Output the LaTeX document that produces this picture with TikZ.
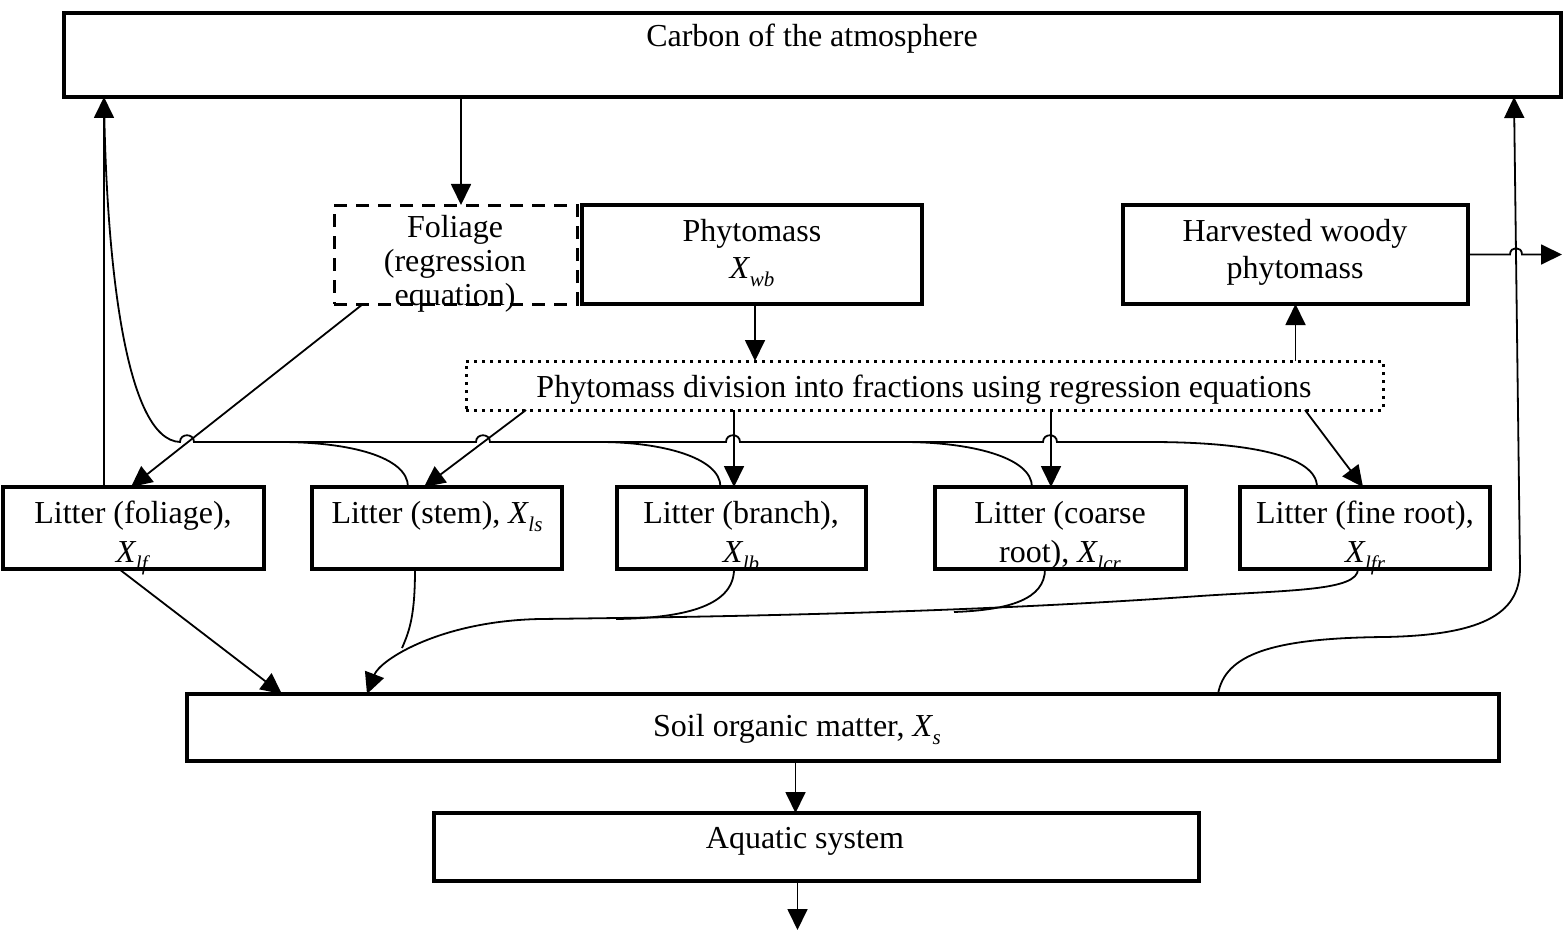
\documentclass[tikz,border=0pt]{standalone}
\usepackage{fontspec}
\setmainfont{Liberation Serif}
\usetikzlibrary{arrows.meta}
\newcommand\Xs[1]{\textit{X}\kern-0.5pt\raisebox{-8pt}{\fontsize{21}{21}\selectfont\textit{#1}}}
\begin{document}
\begin{tikzpicture}[x=1pt,y=-1pt,
  box/.style={draw, line width=3.5pt, inner sep=0pt, outer sep=0pt, anchor=north west},
  dashbox/.style={box, line width=3pt, dash pattern=on 13pt off 9pt},
  dotbox/.style={box, line width=3pt, dash pattern=on 3pt off 5pt},
  lbl/.style={anchor=base, inner sep=0pt, align=center, font=\fontsize{32}{35}\selectfont},
  arr/.style={line width=1.8pt, -{Triangle[length=21pt,width=20pt]}},
  ln/.style={line width=1.8pt},
]
\useasboundingbox (0,0) rectangle (1564,931);

% boxes
\node[box, minimum width=1497pt, minimum height=84pt] (atm) at (64,13) {};
\node[dashbox, minimum width=243pt, minimum height=99pt] (fol) at (334,205) {};
\node[box, minimum width=340pt, minimum height=99pt] (phy) at (582,205) {};
\node[box, minimum width=345pt, minimum height=99pt] (har) at (1123,205) {};
\node[dotbox, minimum width=917pt, minimum height=49pt] (div) at (466,361) {};
\node[box, minimum width=261pt, minimum height=82pt] (lf) at (3,487) {};
\node[box, minimum width=250pt, minimum height=82pt] (ls) at (312,487) {};
\node[box, minimum width=249pt, minimum height=82pt] (lb) at (617,487) {};
\node[box, minimum width=251pt, minimum height=82pt] (lcr) at (935,487) {};
\node[box, minimum width=250pt, minimum height=82pt] (lfr) at (1240,487) {};
\node[box, minimum width=1312pt, minimum height=67pt] (soil) at (187,694) {};
\node[box, minimum width=765pt, minimum height=68pt] (aq) at (434,813) {};

% texts
\node[lbl] (atmT) at (812,47) {Carbon of the atmosphere};
\node[lbl, font=\fontsize{32}{34}\selectfont] (folT) at (455,305) {Foliage\\(regression\\equation)};
\node[lbl, font=\fontsize{32}{37}\selectfont] (phyT) at (752,278) {Phytomass\\\Xs{wb}};
\node[lbl, font=\fontsize{32}{37}\selectfont] (harT) at (1295,278) {Harvested woody\\phytomass};
\node[lbl] (divT) at (924,397) {Phytomass division into fractions using regression equations};
\node[lbl, font=\fontsize{32}{39}\selectfont] (lfT) at (133,562) {Litter (foliage),\\\Xs{lf}};
\node[lbl] (lsT) at (437,523) {Litter (stem), \Xs{ls}};
\node[lbl, font=\fontsize{32}{39}\selectfont] (lbT) at (741,562) {Litter (branch),\\\Xs{lb}};
\node[lbl, font=\fontsize{32}{39}\selectfont] (lcrT) at (1060,562) {Litter (coarse\\root), \Xs{lcr}};
\node[lbl, font=\fontsize{32}{39}\selectfont] (lfrT) at (1365,562) {Litter (fine root),\\\Xs{lfr}};
\node[lbl] (soilT) at (797,736) {Soil organic matter, \Xs{s}};
\node[lbl] (aqT) at (805,848) {Aquatic system};

\coordinate (h1) at ([xshift=42pt]har.east);
\coordinate (h2) at ([xshift=54pt]har.east);
\coordinate (out1) at ([xshift=94pt]har.east);

% straight arrows
\draw[arr] ([xshift=5.5pt]fol.north |- atm.south) -- ([xshift=5.5pt]fol.north);
\draw[arr] ([xshift=3pt]phy.south) -- ([xshift=3pt]phy.south |- div.north);
\draw[arr] (har.south |- div.north) -- (har.south);
\draw[arr] (har.east) -- (h1) .. controls +(0,-8.5) and +(0,-8.5) .. (h2) -- (out1);
\draw[arr] ([xshift=29pt]fol.south west) -- ([xshift=128pt]lf.north west);
\draw[arr] ([xshift=60pt]div.south west) -- ([xshift=112pt]ls.north west);
\draw[arr] ([xshift=117pt]lb.north west |- div.south) -- ([xshift=117pt]lb.north west);
\draw[arr] ([xshift=116pt]lcr.north west |- div.south) -- ([xshift=116pt]lcr.north west);
\draw[arr] ([xshift=839pt]div.south west) -- ([xshift=123pt]lfr.north west);
\draw[arr] ([xshift=101pt]lf.north west) -- ([xshift=101pt]lf.north west |- atm.south);
\draw[arr] ([xshift=116pt]lf.south west) -- ([xshift=95pt]soil.north west);
\draw[arr] ([xshift=-21pt]aq.north |- soil.south) -- ([xshift=-21pt]aq.north);
\draw[arr] ([xshift=-19pt]aq.south) -- ++(0,49);

% return line to the atmosphere
\draw[ln] ([xshift=-48pt]lfr.north) .. controls +(0,-31) and (1250,442) .. (1150,442)
  -- (1057,442) .. controls (1057,433) and (1043,433) .. (1043,442)
  -- (740,442) .. controls (740,433) and (726,433) .. (726,442)
  -- (490,442) .. controls (490,433) and (476,433) .. (476,442)
  -- (194,442) .. controls (194,433) and (180,433) .. (180,442)
  .. controls (125,440) and (106,260) .. ([xshift=101pt]lf.north west |- atm.south);
\draw[ln] ([xshift=-29pt]ls.north) .. controls +(0,-30) and (350,442) .. (280,442);
\draw[ln] ([xshift=-21pt]lb.north) .. controls +(0,-30) and (660,442) .. (600,442);
\draw[ln] ([xshift=-28.5pt]lcr.north) .. controls +(0,-30) and (970,442) .. (903,442);

% litter to soil
\draw[arr] ([xshift=-7pt]lfr.south) .. controls +(0,22) and (1290,590) .. (1200,596)
  .. controls (1000,610) and (800,616) .. (540,619)
  .. controls (440,621) and (380,660) .. ([xshift=180pt]soil.north west);
\draw[ln] ([xshift=-22pt]ls.south) .. controls +(0,45) and (410,630) .. (402,648);
\draw[ln] ([xshift=-7.5pt]lb.south) .. controls +(0,35) and (690,618) .. (616,619);
\draw[ln] ([xshift=-15.5pt]lcr.south) .. controls +(0,30) and (1010,610) .. (954,612);

% soil to atmosphere
\draw[arr] ([xshift=1031pt]soil.north west) .. controls (1225,655) and (1270,638) .. (1385,637)
  .. controls (1490,635) and (1520,610) .. (1520,568) -- ([xshift=1450pt]atm.south west);
\end{tikzpicture}
\end{document}
